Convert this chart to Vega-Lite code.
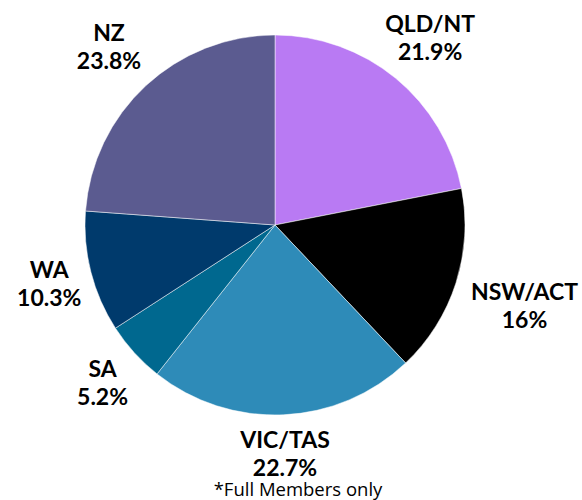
{
  "$schema": "https://vega.github.io/schema/vega-lite/v6.json",
  "autosize": "none",
  "width": 550,
  "height": 450,
  "padding": {"left": 0, "top": 0, "right": 32, "bottom": 50},
  "background": "white",
  "title": {"text": "*Full Members only", "orient": "bottom", "anchor": "middle", "dx": 23, "offset": 0, "font": "Open Sans", "fontSize": 18.5, "fontWeight": "normal", "color": "#000000"},
  "data": {"values": [
    {"region": "QLD/NT", "pct": 21.9, "label": "21.9%", "ord": 1},
    {"region": "NSW/ACT", "pct": 16.0, "label": "16%", "ord": 2},
    {"region": "VIC/TAS", "pct": 22.7, "label": "22.7%", "ord": 3},
    {"region": "SA", "pct": 5.2, "label": "5.2%", "ord": 4},
    {"region": "WA", "pct": 10.3, "label": "10.3%", "ord": 5},
    {"region": "NZ", "pct": 23.8, "label": "23.8%", "ord": 6}
  ]},
  "encoding": {
    "theta": {"field": "pct", "type": "quantitative", "stack": true},
    "order": {"field": "ord", "type": "quantitative"}
  },
  "layer": [
    {
      "mark": {"type": "arc", "outerRadius": 190, "stroke": "#ffffff", "strokeWidth": 0.5},
      "encoding": {
        "color": {"field": "region", "type": "nominal", "legend": null,
          "scale": {"domain": ["QLD/NT", "NSW/ACT", "VIC/TAS", "SA", "WA", "NZ"],
                    "range": ["#B97AF3", "#000000", "#2E8BB8", "#00688F", "#003A6C", "#5B5B90"]}}
      }
    },
    {
      "transform": [{"calculate": "[datum.region, datum.label]", "as": "lines"}],
      "mark": {"type": "text", "font": "Lato", "fontWeight": "bold", "fontSize": 23, "lineHeight": 28, "align": "center", "baseline": "middle", "dy": -12, "color": "#000000",
        "radius": {"expr": "datum.region === 'NSW/ACT' ? 262 : datum.region === 'VIC/TAS' ? 228 : (datum.region === 'SA' || datum.region === 'WA') ? 233 : 244"}},
      "encoding": {
        "text": {"field": "lines"}
      }
    }
  ]
}
